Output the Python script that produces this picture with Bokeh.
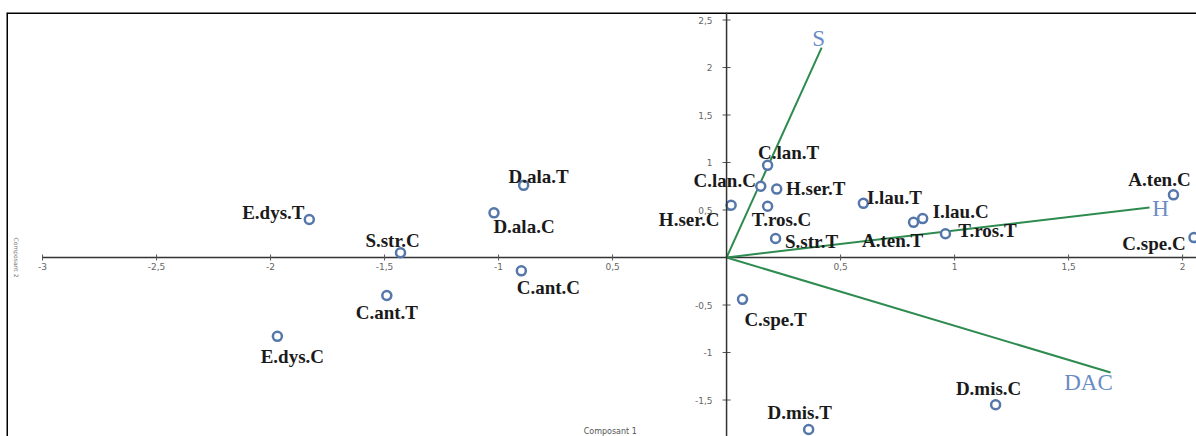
from bokeh.plotting import figure
from bokeh.models import ColumnDataSource, Range1d, Span, Label
from bokeh.core.properties import value
from bokeh.embed import file_html
from bokeh.resources import INLINE

# ---------------- data ----------------
names = ["E.dys.T", "S.str.C", "C.ant.T", "E.dys.C", "D.ala.T", "D.ala.C", "C.ant.C",
         "H.ser.C", "C.lan.C", "C.lan.T", "H.ser.T", "T.ros.C", "S.str.T", "C.spe.T",
         "D.mis.T", "I.lau.T", "A.ten.T", "I.lau.C", "T.ros.T", "A.ten.C", "C.spe.C", "D.mis.C"]
comp1 = [-1.83, -1.43, -1.49, -1.97, -0.89, -1.02, -0.90,
         0.02, 0.15, 0.18, 0.22, 0.18, 0.215, 0.07,
         0.36, 0.60, 0.82, 0.86, 0.96, 1.96, 2.05, 1.18]
comp2 = [0.40, 0.05, -0.40, -0.83, 0.76, 0.47, -0.14,
         0.55, 0.75, 0.97, 0.72, 0.54, 0.20, -0.44,
         -1.81, 0.57, 0.37, 0.41, 0.25, 0.66, 0.21, -1.55]

vec_names = ["S", "H", "DAC"]
vec_x = [0.417, 1.855, 1.684]
vec_y = [2.21, 0.526, -1.21]

xtick_vals = [-3, -2.5, -2, -1.5, -1, -0.5, 0.5, 1, 1.5, 2]
xtick_text = ["-3", "-2,5", "-2", "-1,5", "-1", "0,5", "0,5", "1", "1,5", "2"]
ytick_vals = [2.5, 2, 1.5, 1, 0.5, -0.5, -1, -1.5]
ytick_text = ["2,5", "2", "1,5", "1", "0,5", "-0,5", "-1", "-1,5"]

x_title = "Composant 1"
y_title = "Composant 2"

# ---------------- label placement (screen px, +down) ----------------
label_dx = [-36, -8, 0, 15, 15, 30, 27,
            -42, -36, 21, 39, 14, 36, 33,
            -9, 31, -21, 38, 42, -14, -40, -7]
label_dy = [-7, -12, 17, 20, -9, 14, 17,
            14, -6, -13, -1, 13, 3, 20,
            -17, -6, 18, -7, -3, -15, 6, -16]
vec_dx = [-3, 11, -22]
vec_dy = [-9, 1, 10]

X0, X1 = -3.158, 2.061
Y0, Y1 = -1.884, 2.579

p = figure(width=1196, height=436, x_range=Range1d(X0, X1), y_range=Range1d(Y0, Y1),
           output_backend="svg", toolbar_location=None,
           x_axis_type=None, y_axis_type=None,
           min_border_left=6, min_border_right=0, min_border_bottom=0, min_border_top=12)
p.grid.visible = False
p.outline_line_color = None
p.background_fill_color = "white"
p.border_fill_color = "white"

# frame borders (left and top visible; right/bottom cut off)
p.add_layout(Span(location=X0, dimension="height", line_color="black", line_width=3))
p.add_layout(Span(location=Y1, dimension="width", line_color="black", line_width=3))

# axes through the origin
p.add_layout(Span(location=0, dimension="height", line_color="#333333", line_width=1.5))
p.segment(x0=[min(xtick_vals)], y0=[0], x1=[X1], y1=[0], line_color="#333333", line_width=1.5)

# tick marks
p.rect(x=xtick_vals, y=[0] * len(xtick_vals), width=1, height=6,
       width_units="screen", height_units="screen", fill_color="#555555", line_color=None)
p.rect(x=[0] * len(ytick_vals), y=ytick_vals, width=8, height=1,
       width_units="screen", height_units="screen", fill_color="#555555", line_color=None)

# tick labels
p.text(x=xtick_vals, y=[0] * len(xtick_vals), text=xtick_text, y_offset=5,
       text_align="center", text_baseline="top", text_font=value("DejaVu Sans"),
       text_font_size="9px", text_color="#666666")
p.text(x=[0] * len(ytick_vals), y=ytick_vals, text=ytick_text, x_offset=-14,
       text_align="right", text_baseline="middle", text_font=value("DejaVu Sans"),
       text_font_size="9px", text_color="#666666")

# axis titles
p.add_layout(Label(x=-0.51, y=Y0, y_offset=1, text=x_title, text_align="center",
                   text_baseline="bottom", text_font="DejaVu Sans",
                   text_font_size="8px", text_color="#555555"))
p.add_layout(Label(x=X0, x_offset=10, y=0, text=y_title, angle=-1.5708,
                   text_align="center", text_baseline="middle", text_font="DejaVu Sans",
                   text_font_size="6px", text_color="#777777"))

# vectors
vsrc = ColumnDataSource(dict(x0=[0] * len(vec_x), y0=[0] * len(vec_y), x=vec_x, y=vec_y,
                             name=vec_names, dx=vec_dx, dy=vec_dy))
p.segment(x0="x0", y0="y0", x1="x", y1="y", source=vsrc, line_color="#2e8b50", line_width=2)
p.text(x="x", y="y", text="name", x_offset="dx", y_offset="dy", source=vsrc,
       text_align="center", text_baseline="middle", text_font=value("Liberation Serif"),
       text_font_size="23px", text_color="#6a8cc4")

# points
src = ColumnDataSource(dict(x=comp1, y=comp2, name=names, dx=label_dx, dy=label_dy))
p.scatter(x="x", y="y", source=src, size=9, fill_color="white",
          line_color="#5577aa", line_width=2.5)
p.text(x="x", y="y", text="name", x_offset="dx", y_offset="dy", source=src,
       text_align="center", text_baseline="middle", text_font=value("Liberation Serif"),
       text_font_style="bold", text_font_size="19px", text_color="#1a1a1a")

open("out.html", "w").write(file_html(p, INLINE))
